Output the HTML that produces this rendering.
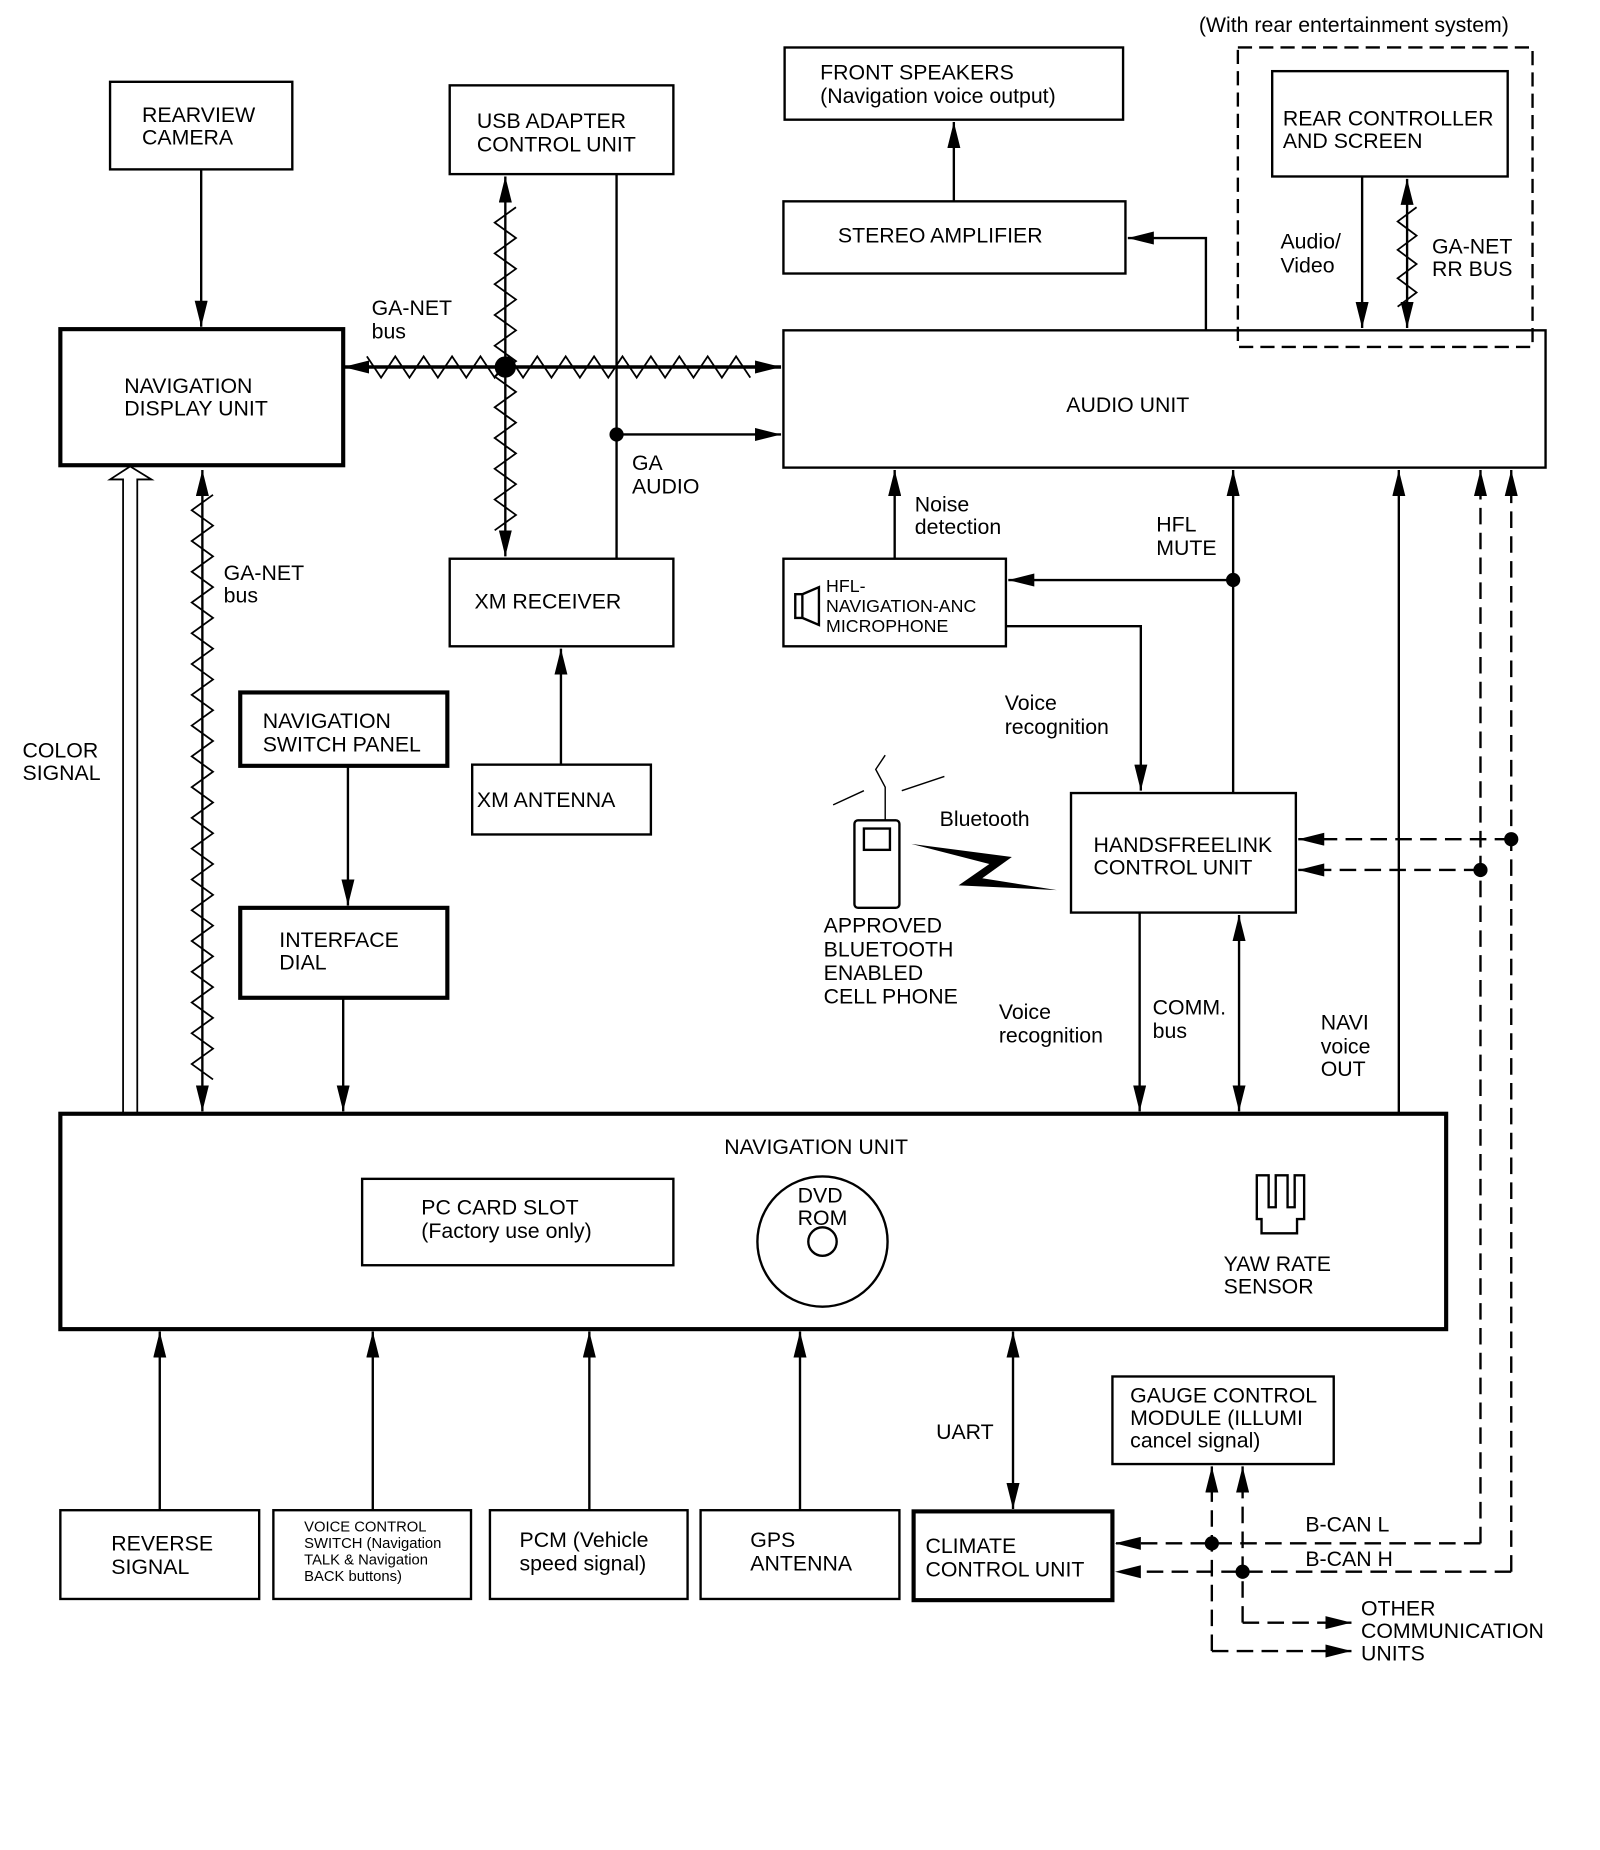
<!DOCTYPE html>
<html><head><meta charset="utf-8"><style>
html,body{margin:0;padding:0;background:#fff;}
svg{display:block}
text{font-family:"Liberation Sans",sans-serif;font-size:18px;fill:#000}
</style></head><body>
<svg id="s" width="1600" height="1850" viewBox="0 0 1352 1563" xmlns="http://www.w3.org/2000/svg">
<defs>
<marker id="a" viewBox="0 0 20 10" refX="20" refY="5" markerWidth="22" markerHeight="11" markerUnits="userSpaceOnUse" orient="auto-start-reverse"><path d="M0,0 L20,5 L0,10 z"/></marker>
</defs>
<g fill="none" stroke="#000" stroke-width="2">
<rect x="93" y="69" width="154" height="74"/>
<rect x="380" y="72" width="189" height="75"/>
<rect x="663" y="40" width="286" height="61"/>
<rect x="662" y="170" width="289" height="61"/>
<rect x="1046" y="40" width="249" height="253" stroke-dasharray="12,6"/>
<rect x="1075" y="60" width="199" height="89"/>
<rect x="51" y="278" width="239" height="115" stroke-width="3.5"/>
<rect x="662" y="279" width="644" height="116"/>
<rect x="380" y="472" width="189" height="74"/>
<rect x="399" y="646" width="151" height="59"/>
<rect x="662" y="472" width="188" height="74"/>
<rect x="203" y="585" width="175" height="62" stroke-width="3.5"/>
<rect x="203" y="767" width="175" height="76" stroke-width="3.5"/>
<rect x="905" y="670" width="190" height="101"/>
<rect x="51" y="941" width="1171" height="182" stroke-width="3.5"/>
<rect x="306" y="996" width="263" height="73"/>
<circle cx="695" cy="1049" r="55"/>
<circle cx="695" cy="1049" r="12"/>
<rect x="940" y="1163" width="187" height="74"/>
<rect x="51" y="1276" width="168" height="75"/>
<rect x="231" y="1276" width="167" height="75"/>
<rect x="414" y="1276" width="167" height="75"/>
<rect x="592" y="1276" width="168" height="75"/>
<rect x="772" y="1277" width="168" height="75" stroke-width="3.5"/>
<line x1="170" y1="143" x2="170" y2="276" marker-end="url(#a)"/>
<line x1="290" y1="310" x2="660" y2="310" marker-start="url(#a)" marker-end="url(#a)" stroke-width="3"/>
<line x1="427" y1="149" x2="427" y2="470" marker-start="url(#a)" marker-end="url(#a)"/>
<line x1="521" y1="147" x2="521" y2="472"/>
<line x1="521" y1="367" x2="660" y2="367" marker-end="url(#a)"/>
<line x1="474" y1="646" x2="474" y2="548" marker-end="url(#a)"/>
<line x1="806" y1="170" x2="806" y2="103" marker-end="url(#a)"/>
<polyline points="1019,279 1019,201 953,201" marker-end="url(#a)"/>
<line x1="1151" y1="149" x2="1151" y2="277" marker-end="url(#a)"/>
<line x1="1189" y1="151" x2="1189" y2="277" marker-start="url(#a)" marker-end="url(#a)"/>
<line x1="171" y1="397" x2="171" y2="939" marker-start="url(#a)" marker-end="url(#a)"/>
<line x1="294" y1="647" x2="294" y2="765" marker-end="url(#a)"/>
<line x1="290" y1="843" x2="290" y2="939" marker-end="url(#a)"/>
<line x1="756" y1="472" x2="756" y2="397" marker-end="url(#a)"/>
<line x1="1042" y1="670" x2="1042" y2="397" marker-end="url(#a)"/>
<line x1="1042" y1="490" x2="852" y2="490" marker-end="url(#a)"/>
<polyline points="850,529 964,529 964,668" marker-end="url(#a)"/>
<line x1="963" y1="771" x2="963" y2="939" marker-end="url(#a)"/>
<line x1="1047" y1="773" x2="1047" y2="939" marker-start="url(#a)" marker-end="url(#a)"/>
<line x1="1182" y1="941" x2="1182" y2="397" marker-end="url(#a)"/>
<line x1="135" y1="1276" x2="135" y2="1125" marker-end="url(#a)"/>
<line x1="315" y1="1276" x2="315" y2="1125" marker-end="url(#a)"/>
<line x1="498" y1="1276" x2="498" y2="1125" marker-end="url(#a)"/>
<line x1="676" y1="1276" x2="676" y2="1125" marker-end="url(#a)"/>
<line x1="856" y1="1125" x2="856" y2="1275" marker-start="url(#a)" marker-end="url(#a)"/>
<path d="M104,940 L104,405 L93,405 L110,394 L128,405 L116,405 L116,940" stroke-width="1.5"/>
<g stroke-dasharray="14,7">
<line x1="1251" y1="1304" x2="1251" y2="397" marker-end="url(#a)"/>
<line x1="1277" y1="1328" x2="1277" y2="397" marker-end="url(#a)"/>
<line x1="1277" y1="709" x2="1097" y2="709" marker-end="url(#a)"/>
<line x1="1251" y1="735" x2="1097" y2="735" marker-end="url(#a)"/>
<line x1="1251" y1="1304" x2="942" y2="1304" marker-end="url(#a)"/>
<line x1="1277" y1="1328" x2="942" y2="1328" marker-end="url(#a)"/>
<line x1="1024" y1="1395" x2="1024" y2="1239" marker-end="url(#a)"/>
<line x1="1050" y1="1371" x2="1050" y2="1239" marker-end="url(#a)"/>
<line x1="1050" y1="1371" x2="1142" y2="1371" marker-end="url(#a)"/>
<line x1="1024" y1="1395" x2="1142" y2="1395" marker-end="url(#a)"/>
</g>
<g id="zz" stroke-width="1.5"></g>
<path d="M672,502 L678,502 L678,522 L672,522 z M678,502 L692,496 L692,528 L678,522"/>
<rect x="722" y="693" width="38" height="74" rx="3"/>
<rect x="730" y="700" width="22" height="18"/>
<path d="M748,693 L748,665 L740,650 L748,638 M704,680 L730,668 M762,668 L798,656" stroke-width="1.2"/>
<path d="M1062,993 L1072,993 L1072,1020 L1078,1020 L1078,993 L1088,993 L1088,1020 L1094,1020 L1094,993 L1102,993 L1102,1030 L1096,1030 L1096,1042 L1066,1042 L1066,1030 L1062,1030 z"/>
</g>
<path d="M770,713 L855,724 L830,742 L893,752 L810,748 L836,730 z" fill="#000"/>
<g fill="#000">
<circle cx="427" cy="310" r="9"/>
<circle cx="521" cy="367" r="6"/>
<circle cx="1042" cy="490" r="6"/>
<circle cx="1277" cy="709" r="6"/>
<circle cx="1251" cy="735" r="6"/>
<circle cx="1024" cy="1304" r="6"/>
<circle cx="1050" cy="1328" r="6"/>
</g>
<text x="1013" y="27">(With rear entertainment system)</text>
<text x="120" y="103">REARVIEW</text><text x="120" y="122">CAMERA</text>
<text x="403" y="108">USB ADAPTER</text><text x="403" y="128">CONTROL UNIT</text>
<text x="693" y="67">FRONT SPEAKERS</text><text x="693" y="87">(Navigation voice output)</text>
<text x="708" y="205">STEREO AMPLIFIER</text>
<text x="1084" y="106">REAR CONTROLLER</text><text x="1084" y="125">AND SCREEN</text>
<text x="105" y="332">NAVIGATION</text><text x="105" y="351">DISPLAY UNIT</text>
<text x="901" y="348">AUDIO UNIT</text>
<text x="314" y="266">GA-NET</text><text x="314" y="286">bus</text>
<text x="534" y="397">GA</text><text x="534" y="417">AUDIO</text>
<text x="1082" y="210">Audio/</text><text x="1082" y="230">Video</text>
<text x="1210" y="214">GA-NET</text><text x="1210" y="233">RR BUS</text>
<text x="401" y="514">XM RECEIVER</text>
<text x="403" y="682">XM ANTENNA</text>
<text x="189" y="490">GA-NET</text><text x="189" y="509">bus</text>
<text x="19" y="640">COLOR</text><text x="19" y="659">SIGNAL</text>
<text x="222" y="615">NAVIGATION</text><text x="222" y="635">SWITCH PANEL</text>
<text x="236" y="800">INTERFACE</text><text x="236" y="819">DIAL</text>
<text x="773" y="432">Noise</text><text x="773" y="451">detection</text>
<text x="977" y="449">HFL</text><text x="977" y="469">MUTE</text>
<text x="698" y="500" style="font-size:15px">HFL-</text><text x="698" y="517" style="font-size:15px">NAVIGATION-ANC</text><text x="698" y="534" style="font-size:15px">MICROPHONE</text>
<text x="849" y="600">Voice</text><text x="849" y="620">recognition</text>
<text x="794" y="698">Bluetooth</text>
<text x="924" y="720">HANDSFREELINK</text><text x="924" y="739">CONTROL UNIT</text>
<text x="696" y="788">APPROVED</text><text x="696" y="808">BLUETOOTH</text><text x="696" y="828">ENABLED</text><text x="696" y="848">CELL PHONE</text>
<text x="844" y="861">Voice</text><text x="844" y="881">recognition</text>
<text x="974" y="857">COMM.</text><text x="974" y="877">bus</text>
<text x="1116" y="870">NAVI</text><text x="1116" y="890">voice</text><text x="1116" y="909">OUT</text>
<text x="612" y="975">NAVIGATION UNIT</text>
<text x="356" y="1026">PC CARD SLOT</text><text x="356" y="1046">(Factory use only)</text>
<text x="674" y="1016">DVD</text><text x="674" y="1035">ROM</text>
<text x="1034" y="1074">YAW RATE</text><text x="1034" y="1093">SENSOR</text>
<text x="791" y="1216">UART</text>
<text x="955" y="1185">GAUGE CONTROL</text><text x="955" y="1204">MODULE (ILLUMI</text><text x="955" y="1223">cancel signal)</text>
<text x="1103" y="1294">B-CAN L</text><text x="1103" y="1323">B-CAN H</text>
<text x="1150" y="1365">OTHER</text><text x="1150" y="1384">COMMUNICATION</text><text x="1150" y="1403">UNITS</text>
<text x="94" y="1310">REVERSE</text><text x="94" y="1330">SIGNAL</text>
<text x="257" y="1294" style="font-size:12.5px">VOICE CONTROL</text><text x="257" y="1308" style="font-size:12.5px">SWITCH (Navigation</text><text x="257" y="1322" style="font-size:12.5px">TALK &amp; Navigation</text><text x="257" y="1336" style="font-size:12.5px">BACK buttons)</text>
<text x="439" y="1307">PCM (Vehicle</text><text x="439" y="1327">speed signal)</text>
<text x="634" y="1307">GPS</text><text x="634" y="1327">ANTENNA</text>
<text x="782" y="1312">CLIMATE</text><text x="782" y="1332">CONTROL UNIT</text>
</svg>
<script>
var g=document.getElementById('zz'),ns='http://www.w3.org/2000/svg';
function zz(x1,y1,x2,y2,amp,step){var dx=x2-x1,dy=y2-y1,L=Math.hypot(dx,dy),ux=dx/L,uy=dy/L,px=-uy,py=ux,pts=[],n=Math.floor(L/step);
for(var i=0;i<=n;i++){var s=i*step,o=(i%2?amp:-amp);pts.push((x1+ux*s+px*o).toFixed(1)+','+(y1+uy*s+py*o).toFixed(1));}
var p=document.createElementNS(ns,'polyline');p.setAttribute('points',pts.join(' '));g.appendChild(p);}
zz(310,310,636,310,9,12);
zz(427,175,427,450,9,13);
zz(1189,175,1189,262,8,12);
zz(171,418,171,918,9,13);
</script>
</body></html>
